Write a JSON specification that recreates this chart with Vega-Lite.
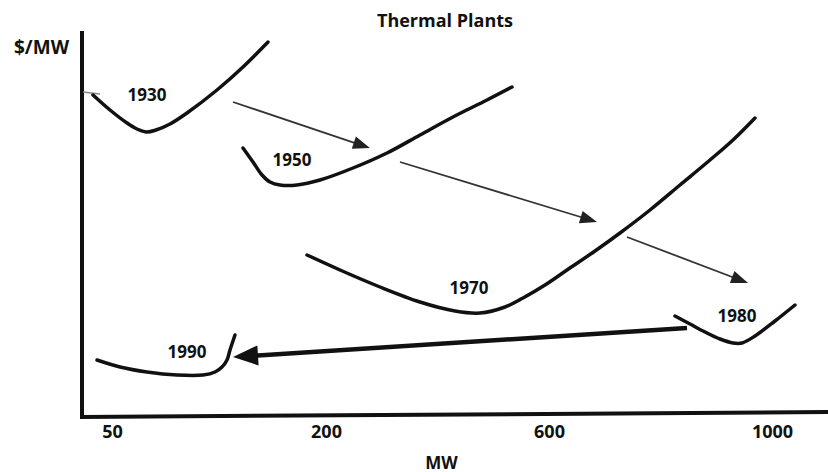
{
  "$schema": "https://vega.github.io/schema/vega-lite/v6.json",
  "width": 828,
  "height": 387,
  "autosize": {"type": "none"},
  "padding": {"top": 30, "left": 0, "right": 0, "bottom": 55},
  "background": "white",
  "title": {
    "text": "Thermal Plants",
    "font": "Open Sans",
    "fontSize": 18,
    "fontWeight": "bold",
    "color": "#111",
    "offset": 0,
    "dx": 31,
    "dy": 6
  },
  "config": {"view": {"stroke": null}},
  "datasets": {
    "curves": [
      {"series": "1930", "i": 0, "x": 93, "y": 322},
      {"series": "1930", "i": 1, "x": 110, "y": 307},
      {"series": "1930", "i": 2, "x": 127, "y": 294},
      {"series": "1930", "i": 3, "x": 137, "y": 288},
      {"series": "1930", "i": 4, "x": 146, "y": 285},
      {"series": "1930", "i": 5, "x": 156, "y": 287},
      {"series": "1930", "i": 6, "x": 170, "y": 293},
      {"series": "1930", "i": 7, "x": 187, "y": 304},
      {"series": "1930", "i": 8, "x": 217, "y": 327},
      {"series": "1930", "i": 9, "x": 243, "y": 350},
      {"series": "1930", "i": 10, "x": 268, "y": 375},
      {"series": "1950", "i": 0, "x": 243, "y": 269},
      {"series": "1950", "i": 1, "x": 253, "y": 255},
      {"series": "1950", "i": 2, "x": 262, "y": 242},
      {"series": "1950", "i": 3, "x": 270, "y": 235},
      {"series": "1950", "i": 4, "x": 280, "y": 232},
      {"series": "1950", "i": 5, "x": 297, "y": 232},
      {"series": "1950", "i": 6, "x": 320, "y": 237},
      {"series": "1950", "i": 7, "x": 353, "y": 249},
      {"series": "1950", "i": 8, "x": 387, "y": 264},
      {"series": "1950", "i": 9, "x": 420, "y": 282},
      {"series": "1950", "i": 10, "x": 453, "y": 300},
      {"series": "1950", "i": 11, "x": 487, "y": 317},
      {"series": "1950", "i": 12, "x": 512, "y": 330},
      {"series": "1970", "i": 0, "x": 307, "y": 162},
      {"series": "1970", "i": 1, "x": 340, "y": 147},
      {"series": "1970", "i": 2, "x": 380, "y": 130},
      {"series": "1970", "i": 3, "x": 420, "y": 115},
      {"series": "1970", "i": 4, "x": 455, "y": 106},
      {"series": "1970", "i": 5, "x": 480, "y": 104},
      {"series": "1970", "i": 6, "x": 505, "y": 110},
      {"series": "1970", "i": 7, "x": 523, "y": 119},
      {"series": "1970", "i": 8, "x": 545, "y": 132},
      {"series": "1970", "i": 9, "x": 567, "y": 147},
      {"series": "1970", "i": 10, "x": 595, "y": 166},
      {"series": "1970", "i": 11, "x": 620, "y": 184},
      {"series": "1970", "i": 12, "x": 650, "y": 207},
      {"series": "1970", "i": 13, "x": 680, "y": 232},
      {"series": "1970", "i": 14, "x": 710, "y": 257},
      {"series": "1970", "i": 15, "x": 733, "y": 277},
      {"series": "1970", "i": 16, "x": 755, "y": 299},
      {"series": "1980", "i": 0, "x": 675, "y": 101},
      {"series": "1980", "i": 1, "x": 690, "y": 93},
      {"series": "1980", "i": 2, "x": 705, "y": 85},
      {"series": "1980", "i": 3, "x": 720, "y": 78},
      {"series": "1980", "i": 4, "x": 733, "y": 74},
      {"series": "1980", "i": 5, "x": 742, "y": 74},
      {"series": "1980", "i": 6, "x": 755, "y": 81},
      {"series": "1980", "i": 7, "x": 775, "y": 96},
      {"series": "1980", "i": 8, "x": 795, "y": 112},
      {"series": "1990", "i": 0, "x": 97, "y": 57},
      {"series": "1990", "i": 1, "x": 120, "y": 50},
      {"series": "1990", "i": 2, "x": 147, "y": 45},
      {"series": "1990", "i": 3, "x": 177, "y": 42},
      {"series": "1990", "i": 4, "x": 203, "y": 42},
      {"series": "1990", "i": 5, "x": 215, "y": 45},
      {"series": "1990", "i": 6, "x": 222, "y": 50},
      {"series": "1990", "i": 7, "x": 227, "y": 57},
      {"series": "1990", "i": 8, "x": 230, "y": 67},
      {"series": "1990", "i": 9, "x": 235, "y": 82}
    ],
    "axes": [
      {"line": "vertical", "i": 0, "x": 82, "y": 384},
      {"line": "vertical", "i": 1, "x": 82, "y": 0},
      {"line": "horizontal", "i": 0, "x": 82, "y": 0},
      {"line": "horizontal", "i": 1, "x": 828, "y": 5}
    ],
    "hook": [
      {"i": 0, "x": 83, "y": 325},
      {"i": 1, "x": 100, "y": 323}
    ],
    "thinArrows": [
      {"arrow": "1930-1950", "i": 0, "x": 233, "y": 315},
      {"arrow": "1930-1950", "i": 1, "x": 361.9, "y": 271.7},
      {"arrow": "1950-1970", "i": 0, "x": 400, "y": 255},
      {"arrow": "1950-1970", "i": 1, "x": 588.9, "y": 197.5},
      {"arrow": "1970-1980", "i": 0, "x": 627, "y": 180},
      {"arrow": "1970-1980", "i": 1, "x": 740.1, "y": 137}
    ],
    "thinHeads": [
      {"arrow": "1930-1950", "x": 361.9, "y": 271.7, "heading": 108.6},
      {"arrow": "1950-1970", "x": 588.9, "y": 197.5, "heading": 106.9},
      {"arrow": "1970-1980", "x": 740.1, "y": 137, "heading": 110.8}
    ],
    "thickArrow": [
      {"arrow": "1980-1990", "i": 0, "x": 687, "y": 89},
      {"arrow": "1980-1990", "i": 1, "x": 245.5, "y": 60.8}
    ],
    "thickHead": [
      {"arrow": "1980-1990", "x": 245.5, "y": 60.8, "heading": 266.4}
    ],
    "labels": [
      {"label": "1930", "x": 147, "y": 321},
      {"label": "1950", "x": 292, "y": 256},
      {"label": "1970", "x": 469, "y": 128},
      {"label": "1980", "x": 737, "y": 100},
      {"label": "1990", "x": 187, "y": 64}
    ]
  },
  "layer": [
    {
      "data": {"name": "axes"},
      "mark": {"type": "line", "color": "#111", "strokeWidth": 4, "strokeCap": "square"},
      "encoding": {
        "x": {
          "field": "x", "type": "quantitative",
          "scale": {"domain": [0, 828], "nice": false, "zero": false},
          "axis": {
            "values": [112, 326, 549, 772],
            "labelExpr": "datum.value == 112 ? '50' : datum.value == 326 ? '200' : datum.value == 549 ? '600' : '1000'",
            "domain": false, "ticks": false, "tickSize": 0, "grid": false,
            "labelFont": "Open Sans", "labelFontSize": 18, "labelFontWeight": "bold", "labelColor": "#111",
            "labelBaseline": "middle", "labelPadding": 15, "labelFlush": false,
            "title": "MW", "titleFont": "Open Sans", "titleFontSize": 17, "titleFontWeight": "bold", "titleColor": "#111",
            "titleX": 441, "titleY": 46, "titleBaseline": "middle", "titleAlign": "center"
          }
        },
        "y": {
          "field": "y", "type": "quantitative",
          "scale": {"domain": [0, 387], "nice": false, "zero": false},
          "axis": {
            "domain": false, "ticks": false, "labels": false, "grid": false,
            "title": "$/MW", "titleAngle": 0, "titleFont": "Open Sans", "titleFontSize": 19, "titleFontWeight": "bold", "titleColor": "#111",
            "titleX": 41, "titleY": 17, "titleBaseline": "middle", "titleAlign": "center"
          }
        },
        "detail": {"field": "line"},
        "order": {"field": "i"}
      }
    },
    {
      "data": {"name": "hook"},
      "mark": {"type": "line", "color": "#888", "strokeWidth": 1.5},
      "encoding": {
        "x": {"field": "x", "type": "quantitative"},
        "y": {"field": "y", "type": "quantitative"},
        "order": {"field": "i"}
      }
    },
    {
      "data": {"name": "curves"},
      "mark": {"type": "line", "color": "#111", "strokeWidth": 3.5, "interpolate": "catmull-rom", "strokeCap": "round"},
      "encoding": {
        "x": {"field": "x", "type": "quantitative"},
        "y": {"field": "y", "type": "quantitative"},
        "detail": {"field": "series"},
        "order": {"field": "i"}
      }
    },
    {
      "data": {"name": "thinArrows"},
      "mark": {"type": "line", "color": "#333", "strokeWidth": 1.8},
      "encoding": {
        "x": {"field": "x", "type": "quantitative"},
        "y": {"field": "y", "type": "quantitative"},
        "detail": {"field": "arrow"},
        "order": {"field": "i"}
      }
    },
    {
      "data": {"name": "thinHeads"},
      "mark": {"type": "point", "shape": "M0,-1L-0.75,1L0.75,1Z", "size": 289, "filled": true, "color": "#222", "opacity": 1},
      "encoding": {
        "x": {"field": "x", "type": "quantitative"},
        "y": {"field": "y", "type": "quantitative"},
        "angle": {"field": "heading", "type": "quantitative", "scale": null}
      }
    },
    {
      "data": {"name": "thickArrow"},
      "mark": {"type": "line", "color": "#111", "strokeWidth": 4.5},
      "encoding": {
        "x": {"field": "x", "type": "quantitative"},
        "y": {"field": "y", "type": "quantitative"},
        "detail": {"field": "arrow"},
        "order": {"field": "i"}
      }
    },
    {
      "data": {"name": "thickHead"},
      "mark": {"type": "point", "shape": "M0,-1L-0.8,1L0.8,1Z", "size": 625, "filled": true, "color": "#111", "opacity": 1},
      "encoding": {
        "x": {"field": "x", "type": "quantitative"},
        "y": {"field": "y", "type": "quantitative"},
        "angle": {"field": "heading", "type": "quantitative", "scale": null}
      }
    },
    {
      "data": {"name": "labels"},
      "mark": {"type": "text", "font": "Open Sans", "fontSize": 17, "fontWeight": "bold", "color": "#111", "align": "center", "baseline": "middle"},
      "encoding": {
        "x": {"field": "x", "type": "quantitative"},
        "y": {"field": "y", "type": "quantitative"},
        "text": {"field": "label"}
      }
    }
  ]
}
